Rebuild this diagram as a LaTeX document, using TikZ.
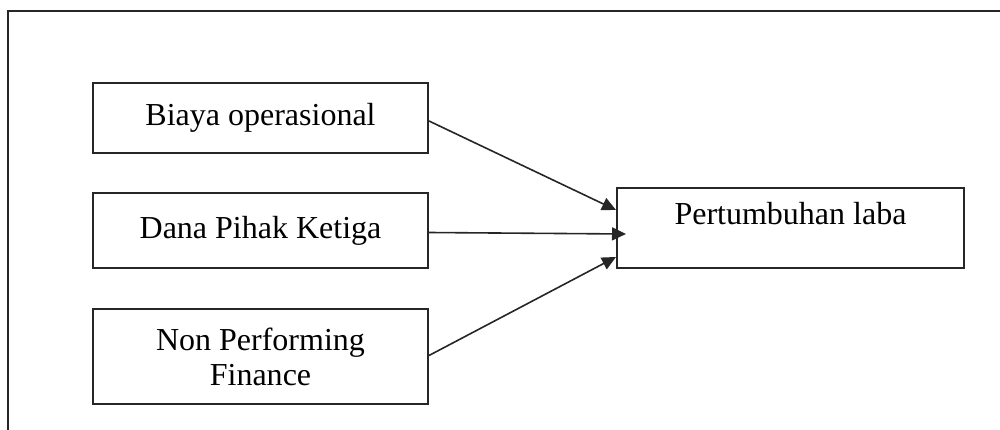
\documentclass[tikz,border=0pt]{standalone}
\usepackage{fontspec}
\setmainfont{Liberation Serif}
\usetikzlibrary{arrows.meta}
\begin{document}
\begin{tikzpicture}[x=1pt,y=-1pt,
  box/.style={draw=black!85,line width=2pt,minimum width=335pt,inner sep=0pt,align=center,font=\fontsize{32}{35}\selectfont},
  conn/.style={draw=black!85,line width=1.6pt,-{Triangle[length=14pt,width=13pt]}},
  txt/.style={inner sep=0pt,font=\fontsize{32}{35}\selectfont}]
\useasboundingbox (0,0) rectangle (1000,430);
\coordinate (ftl) at (8,11);
\coordinate (ftr) at (1002,11);
\coordinate (fbl) at (8,432);
\draw[line width=2pt,black!85] (fbl) -- (ftl) -- (ftr);
\node[box,minimum height=70pt] (b) at (260.5,118) {Biaya operasional};
\node[box,minimum height=75pt] (d) at (260.5,230.5) {Dana Pihak Ketiga};
\node[box,minimum height=95pt] (n) at (260.5,356.5) {Non Performing\\Finance};
\node[box,minimum width=347pt,minimum height=80pt] (p) at (790.5,228) {};
\node[txt] (pt) at (790.5,214) {Pertumbuhan laba};
\draw[conn] ([yshift=-3pt]b.east) -- ([yshift=18pt]p.west);
\draw[conn] ([yshift=-2pt]d.east) -- ([xshift=10pt,yshift=-6pt]p.west);
\draw[conn] ([yshift=1pt]n.east) -- ([yshift=-29pt]p.west);
\end{tikzpicture}
\end{document}
